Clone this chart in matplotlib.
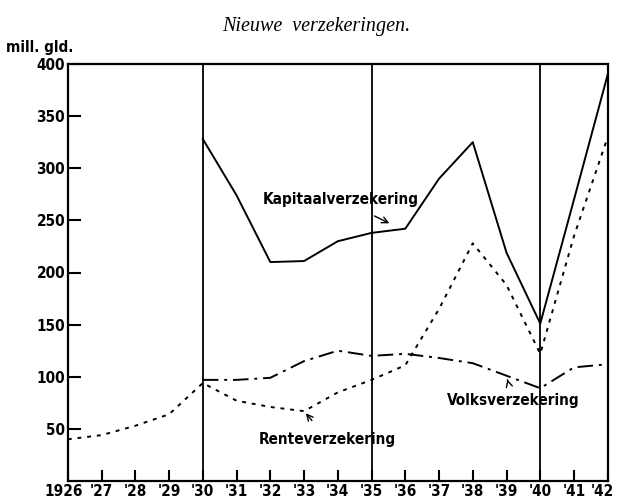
"""
  Nieuwe verzekeringen 1926-1942 (mill. gld.)
"""

import matplotlib
matplotlib.use('Agg')
import matplotlib.pyplot as plt
from matplotlib.transforms import ScaledTranslation

plt.rcParams['font.family'] = ['DejaVu Sans']

jaren = list(range(1926, 1943))
jaar_labels = ['1926', "'27", "'28", "'29", "'30", "'31", "'32", "'33", "'34",
               "'35", "'36", "'37", "'38", "'39", "'40", "'41", "'42"]

# Kapitaalverzekering (vanaf 1930)
kap_jaren = list(range(1930, 1943))
kapitaal = [328, 274, 210, 211, 230, 238, 242, 290, 325, 219, 151, 270, 390]

# Renteverzekering (1926-1942)
rente = [40, 44, 53, 64, 94, 77, 71, 67, 85, 97, 111, 165, 228, 188, 122, 235, 330]

# Volksverzekering (vanaf 1930)
volks_jaren = list(range(1930, 1943))
volks = [97, 97, 99, 115, 125, 120, 122, 118, 113, 101, 89, 109, 112]

y_ticks = [50, 100, 150, 200, 250, 300, 350, 400]
scheidingen = [1930, 1935, 1940]

fig = plt.figure(figsize=(6.17, 5.0), dpi=100)
ax = fig.add_axes([0.110, 0.038, 0.875, 0.834])

for s in scheidingen:
  ax.axvline(s, color='k', lw=1.3)

ax.plot(kap_jaren, kapitaal, color='k', lw=1.4)
ax.plot(jaren, rente, color='k', lw=1.4, linestyle=(0, (2, 3)))
ax.plot(volks_jaren, volks, color='k', lw=1.4, linestyle=(0, (8, 3, 1.5, 3)))

ax.set_xlim(1926, 1942)
ax.set_ylim(0, 400)
ax.set_xticks(jaren)
ax.set_xticklabels(jaar_labels)
ax.set_yticks(y_ticks)
ax.set_yticklabels([str(v) for v in y_ticks])
ax.tick_params(axis='both', direction='in', length=8, width=1.5,
               labelsize=11, pad=2)
ax.tick_params(axis='y', length=9)
for lab in ax.get_xticklabels() + ax.get_yticklabels():
  lab.set_fontweight('bold')
  lab.set_fontstretch('condensed')
# eerste en laatste jaartal iets naar binnen, zoals in het origineel
xl = ax.get_xticklabels()
xl[0].set_transform(xl[0].get_transform() + ScaledTranslation(-3/72, 0, fig.dpi_scale_trans))
xl[-1].set_transform(xl[-1].get_transform() + ScaledTranslation(-4/72, 0, fig.dpi_scale_trans))
for sp in ax.spines.values():
  sp.set_linewidth(1.6)

tekst = dict(fontsize=11, fontweight='bold', fontstretch='condensed')
ax.annotate('Kapitaalverzekering', xy=(1935.6, 246), xytext=(1934.1, 270),
            ha='center', va='center',
            arrowprops=dict(arrowstyle='->', color='k', lw=1,
                            shrinkA=10), **tekst)
ax.annotate('Renteverzekering', xy=(1933.0, 67), xytext=(1933.7, 40),
            ha='center', va='center',
            arrowprops=dict(arrowstyle='->', color='k', lw=1,
                            shrinkA=8), **tekst)
ax.annotate('Volksverzekering', xy=(1939.0, 100), xytext=(1939.2, 77),
            ha='center', va='center',
            arrowprops=dict(arrowstyle='->', color='k', lw=1,
                            shrinkA=8), **tekst)

fig.text(0.512, 0.948, 'Nieuwe  verzekeringen.', ha='center', va='center',
         fontsize=14.5, style='italic', family='Liberation Serif')
fig.text(0.010, 0.905, 'mill. gld.', ha='left', va='center',
         fontsize=11, fontweight='bold', fontstretch='condensed')

fig.savefig('out.png', dpi=100)
